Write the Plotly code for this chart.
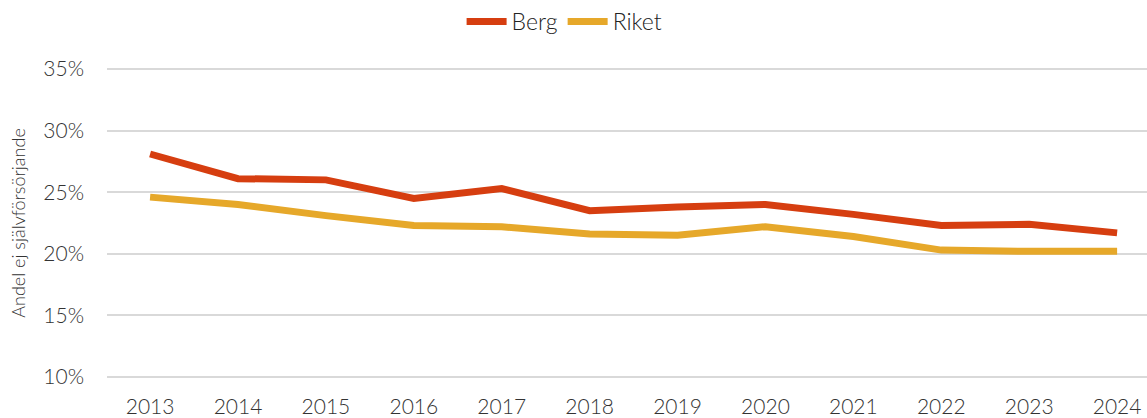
import plotly.graph_objects as go

years = ["2013", "2014", "2015", "2016", "2017", "2018", "2019", "2020", "2021", "2022", "2023", "2024"]
berg = [28.1, 26.1, 26.0, 24.5, 25.3, 23.5, 23.8, 24.0, 23.2, 22.3, 22.4, 21.7]
riket = [24.6, 24.0, 23.1, 22.3, 22.2, 21.6, 21.5, 22.2, 21.4, 20.3, 20.2, 20.2]
y_ticks = [10, 15, 20, 25, 30, 35]

font_family = "Lato"
text_color = "#333333"

fig = go.Figure()
fig.add_trace(go.Scatter(x=years, y=berg, name="Berg", mode="lines",
                         line=dict(color="#D63E10", width=7)))
fig.add_trace(go.Scatter(x=years, y=riket, name="Riket", mode="lines",
                         line=dict(color="#E6A82A", width=7)))

fig.update_layout(
    width=1147, height=418,
    margin=dict(l=107, r=0, t=66, b=37),
    paper_bgcolor="white", plot_bgcolor="white",
    font=dict(family=font_family, color=text_color, size=20),
    showlegend=True,
    legend=dict(orientation="h", x=0.44, xanchor="center",
                y=1.146, yref="paper", yanchor="middle",
                font=dict(size=23, weight=300, color="#222222"),
                itemwidth=40, tracegroupgap=0),
    xaxis=dict(type="category", range=[-0.49, 11.34], showgrid=False,
               showline=False, ticks="", tickfont=dict(size=21, weight=300),
               ticklabelstandoff=13, fixedrange=True),
    yaxis=dict(range=[9.84, 35.16], tickvals=y_ticks,
               ticktext=[f"{v}%" for v in y_ticks],
               showgrid=True, gridcolor="#D9D9D9", gridwidth=2,
               zeroline=False, showline=False, ticks="",
               ticklabelstandoff=22,
               tickfont=dict(size=21, weight=300),
               title=dict(text="Andel ej självförsörjande", standoff=12,
                          font=dict(size=18, weight=300))),
)

fig.write_html("out.html")
